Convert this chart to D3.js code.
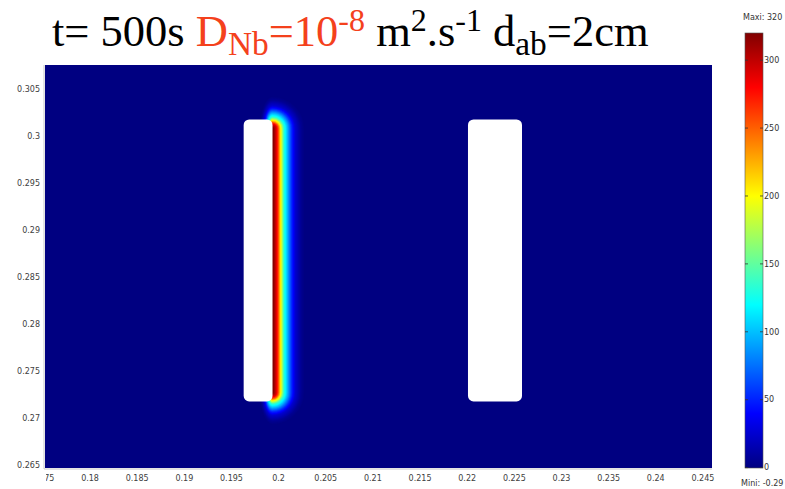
<!DOCTYPE html>
<html><head><meta charset="utf-8">
<script src="https://cdn.jsdelivr.net/npm/d3@7"></script>
<style>body{margin:0;background:#fff}svg{display:block}</style>
</head><body>
<svg id="c" width="785" height="489"></svg>
<script>
// ---- data ----
const xTicks = [0.175,0.18,0.185,0.19,0.195,0.2,0.205,0.21,0.215,0.22,0.225,0.23,0.235,0.24,0.245];
const yTicks = [0.265,0.27,0.275,0.28,0.285,0.29,0.295,0.3,0.305];
const colorTicks = [0,50,100,150,200,250,300];
const fieldMin = -0.29, fieldMax = 320;
// electrodes (m)
const electrodeX0 = [0.1964, 0.22019];
const electrodeX1 = [0.19946, 0.22592];
const electrodeY0 = [0.27176, 0.27176];
const electrodeY1 = [0.30176, 0.30176];
// concentration source face (right face of left electrode)
const sourceX = 0.19946;
const sourceY = [0.2727, 0.3008];
// concentration profile vs distance from that face
const profileDist = [0, 0.0001, 0.00025, 0.00045, 0.00065, 0.00075, 0.00095, 0.0012, 0.0016, 0.002, 0.0024, 0.003, 0.0034];
const profileVal  = [320, 318, 305, 285, 250, 225, 185, 135, 95, 55, 25, 6, 0];

// ---- scales ----
const svg = d3.select('#c');
const L=45, R=712, T=65, B=468;
const x = d3.scaleLinear().domain([0.17533,0.24607]).range([L,R]);
const y = d3.scaleLinear().domain([0.26468,0.30755]).range([B,T]);
const jetStops = [0,0.125,0.375,0.625,0.875,1];
const jetCols = ['#000080','#0000ff','#00ffff','#ffff00','#ff0000','#800000'];
const color = d3.scaleLinear()
  .domain(jetStops.map(t=>fieldMin+t*(fieldMax-fieldMin)))
  .range(jetCols).clamp(true);
const prof = d3.scaleLinear().domain(profileDist).range(profileVal).clamp(true);

// ---- plot ----
svg.append('clipPath').attr('id','pc').append('rect')
  .attr('x',L).attr('y',T).attr('width',R-L).attr('height',B-T);
const g = svg.append('g').attr('clip-path','url(#pc)');
g.append('rect').attr('x',L).attr('y',T).attr('width',R-L).attr('height',B-T)
  .attr('fill',color(0));

const x0 = x(sourceX), yTop = y(sourceY[1]), yBot = y(sourceY[0]);
const pxPerM = x(1)-x(0);
const dMax = profileDist[profileDist.length-1];
const steps = d3.range(dMax, 0, -0.00002);
g.selectAll('path.band').data(steps).join('path').attr('class','band')
  .attr('d', dm => {
    const d = dm*pxPerM, a = 0.4*d;
    return `M${x0-a},${yTop} A${a},${d} 0 0 1 ${x0},${yTop-d} A${d},${d} 0 0 1 ${x0+d},${yTop} L${x0+d},${yBot} A${d},${d} 0 0 1 ${x0},${yBot+d} A${a},${d} 0 0 1 ${x0-a},${yBot} Z`;
  })
  .attr('fill', dm => color(prof(dm)));

g.selectAll('rect.el').data(d3.range(electrodeX0.length)).join('rect').attr('class','el')
  .attr('x', i=>x(electrodeX0[i])).attr('y', i=>y(electrodeY1[i]))
  .attr('width', i=>x(electrodeX1[i])-x(electrodeX0[i]))
  .attr('height', i=>y(electrodeY0[i])-y(electrodeY1[i]))
  .attr('rx',5.5).attr('ry',5.5).attr('fill','#fff');

// axes lines
svg.append('line').attr('x1',L-1).attr('x2',L-1).attr('y1',T).attr('y2',B+1).attr('stroke','#c8c8c8');
svg.append('line').attr('x1',L-1).attr('x2',R).attr('y1',B+1).attr('y2',B+1).attr('stroke','#c8c8c8');

const font = "'DejaVu Sans', Verdana, sans-serif";
// y tick labels
svg.append('g').selectAll('text').data(yTicks).join('text')
  .attr('x',40).attr('y',d=>y(d)).attr('dy','0.35em').attr('text-anchor','end')
  .attr('font-family',font).attr('font-size',8).attr('fill','#404040')
  .text(d=>d3.format('')(d));
// x tick labels (clipped at plot left edge)
svg.append('clipPath').attr('id','xc').append('rect').attr('x',L+1).attr('y',B).attr('width',785).attr('height',30);
svg.append('g').attr('clip-path','url(#xc)').selectAll('text').data(xTicks).join('text')
  .attr('x',d=>x(d)+1).attr('y',481).attr('text-anchor','middle')
  .attr('font-family',font).attr('font-size',8).attr('fill','#404040')
  .text(d=>d3.format('')(d));

// ---- colorbar ----
const cy = d3.scaleLinear().domain([fieldMin, fieldMax]).range([468, 33]);
const grad = svg.append('defs').append('linearGradient').attr('id','jet')
  .attr('x1',0).attr('y1',1).attr('x2',0).attr('y2',0);
grad.selectAll('stop').data(jetStops).join('stop')
  .attr('offset',d=>d).attr('stop-color',(d,i)=>jetCols[i]);
const cbX=745, cbW=18;
svg.append('rect').attr('x',cbX).attr('y',cy(fieldMax)).attr('width',cbW)
  .attr('height',cy(fieldMin)-cy(fieldMax)).attr('fill','url(#jet)')
  .attr('stroke','#555').attr('stroke-width',0.6);
const ct = svg.append('g');
ct.selectAll('line.l').data(colorTicks).join('line').attr('class','l')
  .attr('x1',cbX).attr('x2',cbX+3).attr('y1',d=>cy(d)).attr('y2',d=>cy(d)).attr('stroke','#333').attr('stroke-width',0.8);
ct.selectAll('line.r').data(colorTicks).join('line').attr('class','r')
  .attr('x1',cbX+cbW-3).attr('x2',cbX+cbW).attr('y1',d=>cy(d)).attr('y2',d=>cy(d)).attr('stroke','#333').attr('stroke-width',0.8);
ct.selectAll('text').data(colorTicks).join('text')
  .attr('x',cbX+cbW+1).attr('y',d=>cy(d)).attr('dy','0.35em')
  .attr('font-family',font).attr('font-size',8).attr('fill','#333').text(d=>d);
svg.append('text').attr('x',743).attr('y',20).attr('font-family',font).attr('font-size',8).attr('fill','#333')
  .text('Maxi: ' + fieldMax);
svg.append('text').attr('x',741).attr('y',486).attr('font-family',font).attr('font-size',8).attr('fill','#333')
  .text('Mini: ' + fieldMin);

// ---- title ----
const red = '#f4411c';
const fs = 44.5;
const title = svg.append('text').attr('x',52).attr('y',46)
  .attr('font-family',"'Liberation Serif','DejaVu Serif',serif").attr('font-size',fs).attr('fill','#000');
const parts = [
  ['t= 500s ', '#000', 0, 1],
  ['D', red, 0, 1],
  ['Nb', red, 9, 0.75],
  ['=10', red, -9, 1],
  ['-8', red, -15, 0.72],
  [' m', '#000', 15, 1],
  ['2', '#000', -15, 0.72],
  ['.s', '#000', 15, 1],
  ['-1', '#000', -15, 0.72],
  [' d', '#000', 15, 1],
  ['ab', '#000', 9, 0.75],
  ['=2cm', '#000', -9, 1]
];
parts.forEach(p => {
  title.append('tspan').attr('fill',p[1]).attr('dy',p[2]).attr('font-size',fs*p[3]).text(p[0]);
});
</script>
</body></html>
